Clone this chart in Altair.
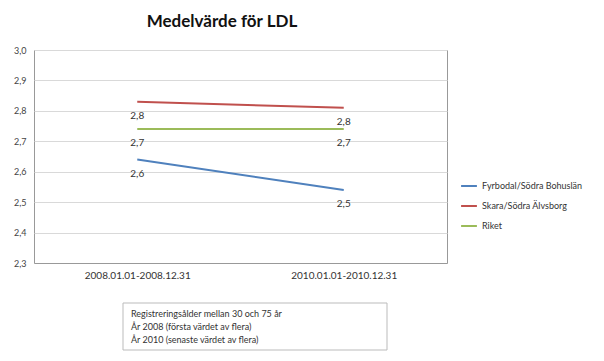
import altair as alt
import pandas as pd

periods = ["2008.01.01-2008.12.31", "2010.01.01-2010.12.31"]
series = ["Fyrbodal/Södra Bohuslän", "Skara/Södra Älvsborg", "Riket"]
values = {
    "Fyrbodal/Södra Bohuslän": [2.64, 2.54],
    "Skara/Södra Älvsborg": [2.83, 2.81],
    "Riket": [2.74, 2.74],
}
colors = ["#4F81BD", "#C0504D", "#9BBB59"]
note_lines = [
    "Registreringsålder mellan 30 och 75 år",
    "År 2008 (första värdet av flera)",
    "År 2010 (senaste värdet av  flera)",
]

rows = []
for s in series:
    for p, v in zip(periods, values[s]):
        rows.append({"period": p, "serie": s, "value": v,
                     "label": f"{v:.1f}".replace(".", ",")})
df = pd.DataFrame(rows)

FONT = "Lato"

x = alt.X("period:N", sort=periods, title=None,
          scale=alt.Scale(paddingInner=0, paddingOuter=0),
          axis=alt.Axis(labelAngle=0, ticks=False, labelFontSize=10,
                        labelColor="#333", domainColor="#999", labelPadding=7))
y = alt.Y("value:Q", title=None,
          scale=alt.Scale(domain=[2.3, 3.0], nice=False, zero=False),
          axis=alt.Axis(values=[2.3, 2.4, 2.5, 2.6, 2.7, 2.8, 2.9, 3.0],
                        format=".1f", labelExpr="replace(datum.label, '.', ',')",
                        labelFontSize=9, labelColor="#444", ticks=False,
                        domain=False, gridColor="#d9d9d9", labelPadding=8))
color = alt.Color("serie:N", sort=series,
                  scale=alt.Scale(domain=series, range=colors),
                  legend=alt.Legend(title=None, orient="none", legendX=426, legendY=127,
                                    symbolType="stroke", symbolStrokeWidth=2,
                                    symbolSize=250, labelFontSize=9,
                                    labelColor="#333", rowPadding=6,
                                    labelFont=FONT))

lines = alt.Chart(df).mark_line(strokeWidth=2).encode(x=x, y=y, color=color)
labels = alt.Chart(df).mark_text(dy=14, fontSize=10, color="#333", font=FONT).encode(
    x=x, y=y, text="label:N")

title = alt.Chart(pd.DataFrame({"t": ["Medelvärde för LDL"]})).mark_text(
    fontSize=17, fontWeight="bold", font=FONT, color="#111"
).encode(x=alt.value(188), y=alt.value(-28), text="t:N")

box = alt.Chart(pd.DataFrame({"a": [1]})).mark_rect(
    fill="white", stroke="#bbbbbb", strokeWidth=1
).encode(x=alt.value(89), x2=alt.value(353), y=alt.value(253), y2=alt.value(300))

note_layers = []
for i, line in enumerate(note_lines):
    note_layers.append(
        alt.Chart(pd.DataFrame({"line": [line]})).mark_text(
            align="left", baseline="middle", fontSize=9, font=FONT, color="#333"
        ).encode(x=alt.value(97), y=alt.value(264 + 13 * i), text="line:N")
    )

chart = alt.layer(lines, labels, title, box, *note_layers).properties(
    width=413, height=213,
    padding={"left": 26, "top": 42, "right": 149, "bottom": 90},
    autosize=alt.AutoSizeParams(type="none"),
    background="white",
).configure_view(stroke="#999", strokeWidth=1).configure_axis(labelFont=FONT)

chart.save("out.html", embed_options={"renderer": "svg", "actions": False})
